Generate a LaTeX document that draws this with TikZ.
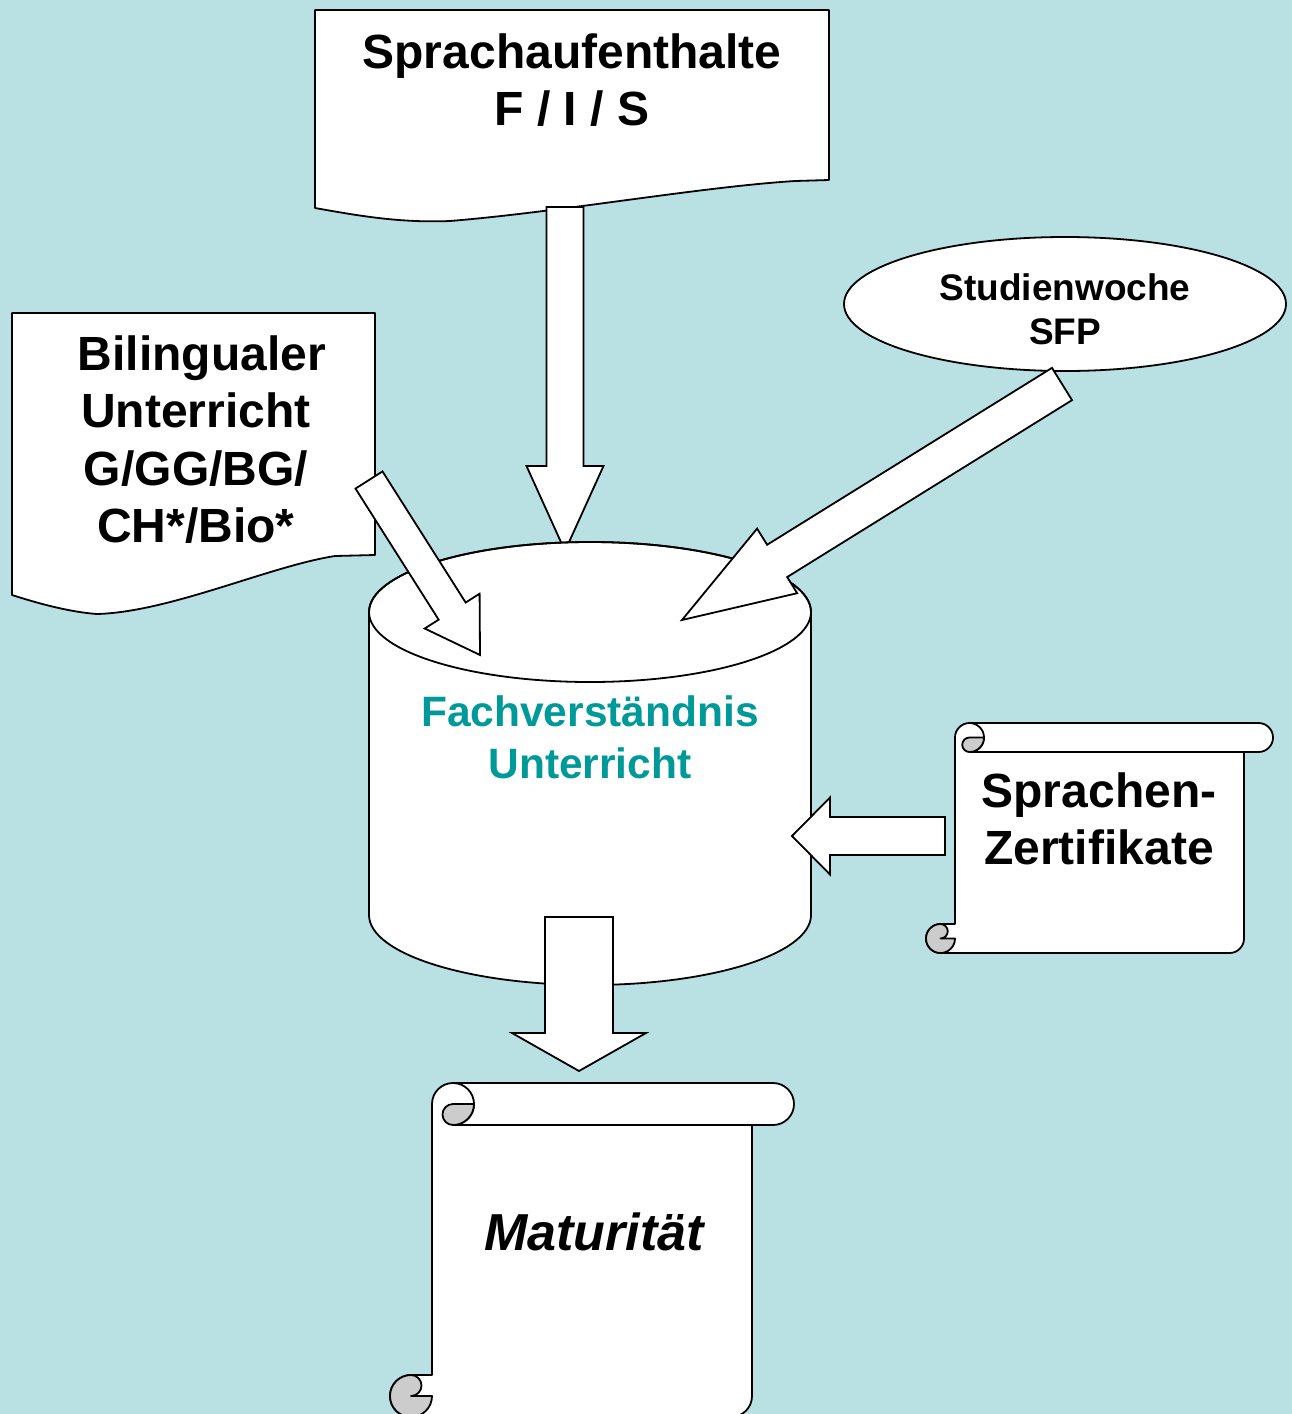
\documentclass[tikz,border=0pt]{standalone}
\usepackage{fontspec}
\setmainfont{Liberation Sans}
\usetikzlibrary{calc,shapes.geometric}
\definecolor{bgblue}{RGB}{185,224,227}
\definecolor{tealtxt}{RGB}{0,153,153}
\definecolor{curlgrey}{RGB}{204,204,204}

% block arrow: tail, tip, shaft half width, head half width, head length
\newcommand\blkarrow[5]{%
  \path ($(#2)!#5!(#1)$) coordinate (jtmp);
  \draw[arrowbody] ($(#1)!#3!90:(#2)$) -- ($(jtmp)!#3!90:(#2)$) -- ($(jtmp)!#4!90:(#2)$)
    -- (#2) -- ($(jtmp)!#4!-90:(#2)$) -- ($(jtmp)!#3!-90:(#2)$) -- ($(#1)!#3!-90:(#2)$) -- cycle;
}

% horizontal scroll: left, top, right, bottom, roll height
\newcommand\scrollsh[5]{%
  \pgfmathsetmacro\sL{#1}%
  \pgfmathsetmacro\sT{#2}%
  \pgfmathsetmacro\sR{#3}%
  \pgfmathsetmacro\sB{#4}%
  \pgfmathsetmacro\sC{#5}%
  \pgfmathsetmacro\sH{#5/2}%
  \pgfmathsetmacro\sQ{#5/4}%
  \draw[shapeline] (\sL+\sC,\sT+\sH) arc[start angle=180,end angle=270,radius=\sH]
    -- (\sR-\sH,\sT) arc[start angle=270,end angle=450,radius=\sH]
    -- (\sR-\sC,\sT+\sC) -- (\sR-\sC,\sB-\sH) arc[start angle=0,end angle=90,radius=\sH]
    -- (\sL+\sH,\sB) arc[start angle=90,end angle=270,radius=\sH]
    -- (\sL+\sC,\sB-\sC) -- cycle;
  \draw[shapeline,fill=none] (\sL+\sC+\sH,\sT) arc[start angle=270,end angle=450,radius=\sH] -- (\sR-\sC,\sT+\sC);
  \draw[curlfill] (\sL+\sC+\sH,\sT+\sH) -- (\sL+\sC+\sC,\sT+\sH) arc[start angle=0,end angle=90,radius=\sH]
    arc[start angle=90,end angle=270,radius=\sQ] -- cycle;
  \draw[curlfill] (\sL+\sH,\sB-\sC) arc[start angle=270,end angle=0,radius=\sH] -- (\sL+\sH,\sB-\sH)
    arc[start angle=90,end angle=-90,radius=\sQ] -- cycle;
}

\begin{document}
\begin{tikzpicture}[x=1pt,y=-1pt,
  shapeline/.style={draw=black,fill=white,line width=1.8pt,line join=round},
  curlfill/.style={draw=black,fill=curlgrey,line width=1.8pt,line join=round},
  arrowbody/.style={draw=black,fill=white,line width=1.8pt,line join=miter},
  txt/.style={inner sep=0pt,align=center,font=\fontsize{48}{57.5}\selectfont\bfseries},
  txtf/.style={inner sep=0pt,align=center,text=tealtxt,font=\fontsize{42.5}{52}\selectfont\bfseries},
  txts/.style={inner sep=0pt,align=center,font=\fontsize{37}{43.5}\selectfont\bfseries},
  txtm/.style={inner sep=0pt,font=\fontsize{52}{60}\selectfont\bfseries\itshape}]
\useasboundingbox (0,0) rectangle (1292,1414);
\clip (0,0) rectangle (1292,1414);
\fill[bgblue] (0,0) rectangle (1292,1414);

% named arrow ends
\coordinate (aTopS) at (565,207);  \coordinate (aTopE) at (565,551);
\coordinate (aLS) at (369,480);    \coordinate (aLE) at (480,655);
\coordinate (aRS) at (1062,384);   \coordinate (aRE) at (682,620);
\coordinate (aBS) at (579,917);    \coordinate (aBE) at (579,1071);
\coordinate (aZS) at (945,836);    \coordinate (aZE) at (792,836);

% Sprachaufenthalte document box
\draw[shapeline] (315,10) -- (829,10) -- (829,180) -- (795,181)
  .. controls (700,187) and (560,212) .. (450,221)
  .. controls (400,223) and (360,216) .. (315,208) -- cycle;
\blkarrow{aTopS}{aTopE}{18.5pt}{38.5pt}{85pt}

% Bilingualer document box
\draw[shapeline] (12,313) -- (375,313) -- (375,555) -- (335,556)
  .. controls (270,566) and (170,612) .. (97,614)
  .. controls (70,612) and (40,604) .. (12,595) -- cycle;

% Studienwoche ellipse
\node[ellipse,draw=black,fill=white,line width=1.8pt,minimum width=442pt,minimum height=134pt,inner sep=0pt] (stud) at (1065,304) {};

% cylinder
\draw[shapeline] (369,612) -- (369,915) arc[start angle=180,end angle=0,x radius=221,y radius=70]
  -- (811,612) arc[start angle=0,end angle=-180,x radius=221,y radius=70] -- cycle;
\draw[shapeline,fill=none] (590,612) ellipse [x radius=221,y radius=70];

\blkarrow{aLS}{aLE}{16pt}{32.5pt}{52pt}
\blkarrow{aRS}{aRE}{19pt}{38pt}{112pt}

% Sprachen-Zertifikate scroll
\scrollsh{926}{723}{1273}{953}{29}
\blkarrow{aZS}{aZE}{19pt}{38.5pt}{38pt}

\blkarrow{aBS}{aBE}{34pt}{67pt}{38pt}

% Maturitaet scroll
\scrollsh{390}{1083}{794}{1417}{42}

% texts
\node[txt] (sprachtxt) at (572,80) {Sprachaufenthalte\\F / I / S};
\node[txt] (biltxt) at (196,439.5) {\kern12pt Bilingualer\\Unterricht\\G/GG/BG/\\CH*/Bio*};
\node[txts] (studtxt) at (1065,309.5) {Studienwoche\\SFP};
\node[txtf] (fachtxt) at (590,737.5) {Fachverständnis\\Unterricht};
\node[txt] (zerttxt) at (1099,819) {Sprachen-\\Zertifikate};
\node[txtm,anchor=base] (matxt) at (594,1250) {Maturität};
\end{tikzpicture}
\end{document}
